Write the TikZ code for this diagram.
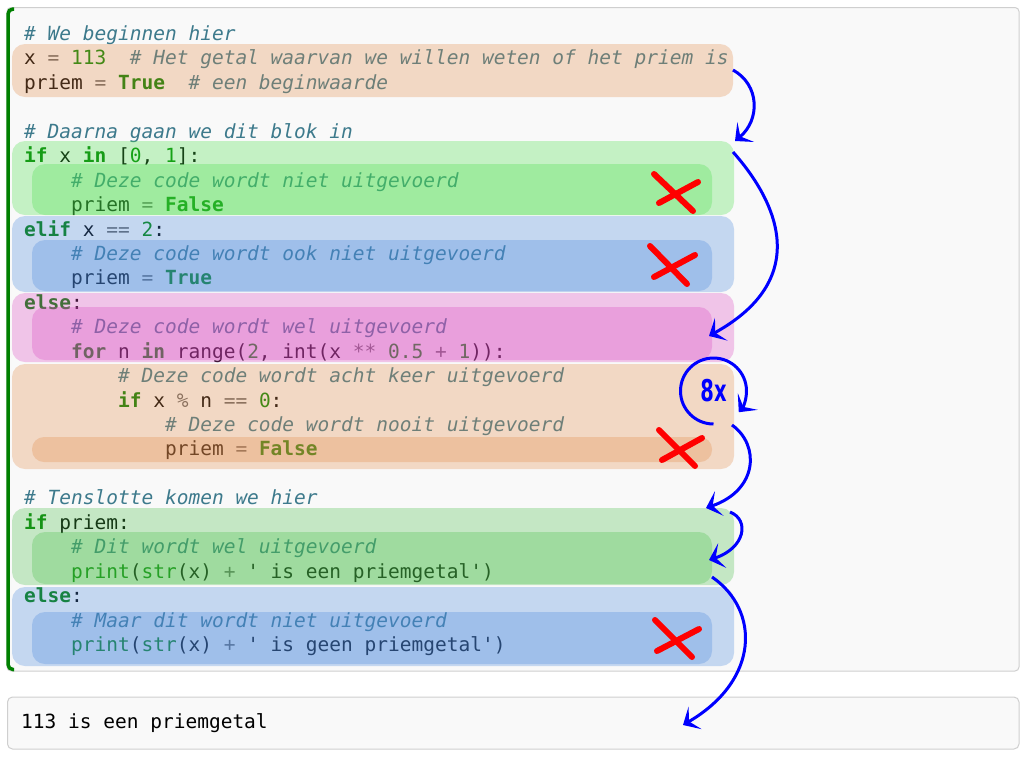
\documentclass[tikz,border=0pt]{standalone}
\usepackage{fontspec}
\usepackage{graphicx}
\usetikzlibrary{arrows.meta}
\newfontfamily\codefont{DejaVu Sans Mono}[Ligatures=TeXOff]
\newfontfamily\labfont{DejaVu Sans}
\definecolor{kwc}{RGB}{0,128,0}
\definecolor{cmc}{RGB}{61,122,140}
\definecolor{nmc}{RGB}{0,136,0}
\definecolor{opc}{RGB}{102,102,102}
\definecolor{cellbg}{RGB}{249,249,249}
\definecolor{cellbd}{RGB}{207,207,207}
\definecolor{ovO}{RGB}{226,140,76}
\definecolor{ovG}{RGB}{74,224,75}
\definecolor{ovGb}{RGB}{75,192,75}
\definecolor{ovB}{RGB}{75,137,222}
\definecolor{ovP}{RGB}{220,74,194}
\newcommand\pyk[1]{{\bfseries\color{kwc}#1}}
\newcommand\pyc[1]{{\itshape\color{cmc}#1}}
\newcommand\pyn[1]{{\color{nmc}#1}}
\newcommand\pyo[1]{{\color{opc}#1}}
\newcommand\pyb[1]{{\color{kwc}#1}}
\newcommand\codeline[3]{\node[code] (l#1) at ({24+11.74*#2},{40.5+24.44*#1}) {#3};}
\tikzset{
  code/.style={anchor=base west, inner sep=0pt, font=\codefont\fontsize{19.5}{24}\selectfont, text=black},
  ov/.style={fill=#1, fill opacity=0.3, rounded corners=13pt},
  xmark/.style={draw=red, line width=6pt, line cap=round},
  flow/.style={draw=blue, line width=3pt, -{Stealth[length=14pt,width=26pt,inset=7pt]}},
}
\begin{document}
\begin{tikzpicture}[x=1pt,y=-1pt]
\useasboundingbox (0,0) rectangle (1026,756);
\fill[white] (0,0) rectangle (1026,756);
% code cell
\draw[cellbd, fill=cellbg, rounded corners=4pt, line width=1pt] (7,7.5) rectangle (1019,671);
\draw[kwc, line width=3.5pt, rounded corners=5pt] (14,9) -- (8,9) -- (8,669.5) -- (14,669.5);
% output cell
\draw[cellbd, fill=cellbg, rounded corners=5pt, line width=1pt] (7.5,697) rectangle (1019,749);
\node[code] (out) at (21,728) {113 is een priemgetal};
% code lines
\codeline{0}{0}{\pyc{\# We beginnen hier}}
\codeline{1}{0}{x \pyo{=} \pyn{113}\ \ \pyc{\# Het getal waarvan we willen weten of het priem is}}
\codeline{2}{0}{priem \pyo{=} \pyk{True}\ \ \pyc{\# een beginwaarde}}
\codeline{4}{0}{\pyc{\# Daarna gaan we dit blok in}}
\codeline{5}{0}{\pyk{if} x \pyk{in} [\pyn{0}, \pyn{1}]:}
\codeline{6}{4}{\pyc{\# Deze code wordt niet uitgevoerd}}
\codeline{7}{4}{priem \pyo{=} \pyk{False}}
\codeline{8}{0}{\pyk{elif} x \pyo{==} \pyn{2}:}
\codeline{9}{4}{\pyc{\# Deze code wordt ook niet uitgevoerd}}
\codeline{10}{4}{priem \pyo{=} \pyk{True}}
\codeline{11}{0}{\pyk{else}:}
\codeline{12}{4}{\pyc{\# Deze code wordt wel uitgevoerd}}
\codeline{13}{4}{\pyk{for} n \pyk{in} range(\pyn{2}, int(x \pyo{**} \pyn{0.5} \pyo{+} \pyn{1})):}
\codeline{14}{8}{\pyc{\# Deze code wordt acht keer uitgevoerd}}
\codeline{15}{8}{\pyk{if} x \pyo{\%} n \pyo{==} \pyn{0}:}
\codeline{16}{12}{\pyc{\# Deze code wordt nooit uitgevoerd}}
\codeline{17}{12}{priem \pyo{=} \pyk{False}}
\codeline{19}{0}{\pyc{\# Tenslotte komen we hier}}
\codeline{20}{0}{\pyk{if} priem:}
\codeline{21}{4}{\pyc{\# Dit wordt wel uitgevoerd}}
\codeline{22}{4}{\pyb{print}(\pyb{str}(x) \pyo{+} ' is een priemgetal')}
\codeline{23}{0}{\pyk{else}:}
\codeline{24}{4}{\pyc{\# Maar dit wordt niet uitgevoerd}}
\codeline{25}{4}{\pyb{print}(\pyb{str}(x) \pyo{+} ' is geen priemgetal')}
% overlays
\fill[ov=ovO] (12,44) rectangle (733,97);
\fill[ov=ovG] (12,141) rectangle (734,215);
\fill[ov=ovG] (32,164) rectangle (712,215);
\fill[ov=ovB] (12,216) rectangle (734,292);
\fill[ov=ovB] (32,240) rectangle (712,291);
\fill[ov=ovP] (12,293) rectangle (734,362);
\fill[ov=ovP] (32,307) rectangle (712,360);
\fill[ov=ovO] (12,364) rectangle (734,469);
\fill[ov=ovO, rounded corners=12pt] (32,437) rectangle (712,462);
\fill[ov=ovGb] (12,508) rectangle (734,585);
\fill[ov=ovGb] (32,532) rectangle (712,584);
\fill[ov=ovB] (12,587) rectangle (734,666);
\fill[ov=ovB] (32,612) rectangle (712,664);
% crosses
\draw[xmark] (654,174) -- (693,211);
\draw[xmark] (698,182) -- (659,203);
\draw[xmark] (650,246) -- (687,284);
\draw[xmark] (695,255) -- (654,277);
\draw[xmark] (659,430) -- (695,466);
\draw[xmark] (702,438) -- (662,460);
\draw[xmark] (655,620) -- (692,657);
\draw[xmark] (699,629) -- (657,651);
% flow arrows
\coordinate (s1) at (733,70);  \coordinate (t1) at (735,141);
\coordinate (s2) at (733,152); \coordinate (t2) at (709,336);
\coordinate (s3) at (732,425); \coordinate (t3) at (706,508);
\coordinate (s4) at (730,512); \coordinate (t4) at (709,560);
\coordinate (s5) at (712,577); \coordinate (t5) at (683,725);
\draw[flow] (s1) .. controls (760,85) and (760,120) .. (t1);
\draw[flow] (s2) .. controls (780,205) and (810,280) .. (t2);
\draw[flow] (s3) .. controls (760,445) and (758,490) .. (t3);
\draw[flow] (s4) .. controls (750,520) and (745,548) .. (t4);
\draw[flow] (s5) .. controls (760,610) and (760,680) .. (t5);
% loop
\node[font=\labfont\bfseries\fontsize{30}{30}\selectfont, text=blue, inner sep=0pt] (eight) at (713.5,391) {\scalebox{0.65}[1]{8x}};
\draw[flow] (eight.center) ++(90:33) arc[start angle=90, end angle=400, radius=33];
\end{tikzpicture}
\end{document}
